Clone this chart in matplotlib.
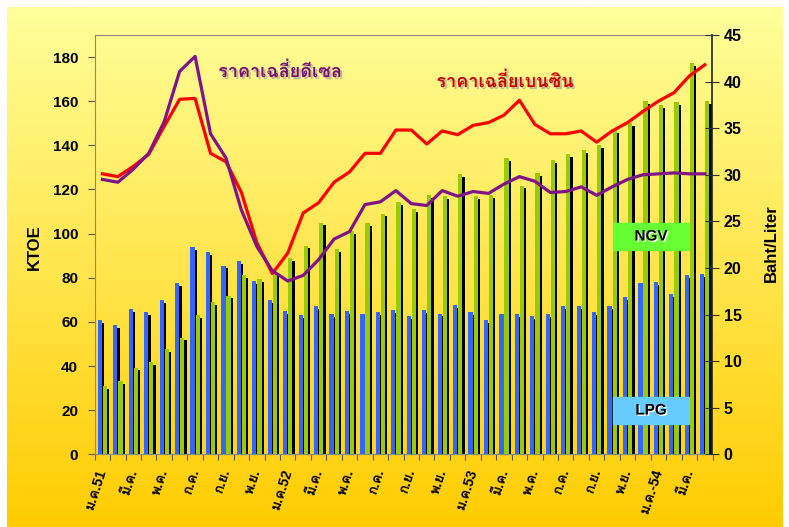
import matplotlib
matplotlib.use('Agg')
import matplotlib.pyplot as plt
import matplotlib.patheffects as pe
from matplotlib import font_manager
from matplotlib.ft2font import FT2Font
from matplotlib.patches import Rectangle
import numpy as np

# monthly data, ม.ค.51 .. เม.ย.54
lpg = [60.8, 58.7, 66.0, 64.4, 69.9, 77.5, 94.1, 91.7, 85.5, 87.4,
       78.4, 69.9, 65.1, 63.0, 67.3, 63.5, 65.1, 63.8, 64.3, 65.4,
       62.8, 65.4, 63.8, 67.6, 64.3, 61.0, 63.8, 63.5, 62.8, 63.4,
       67.2, 67.2, 64.6, 67.2, 71.1, 77.5, 77.9, 72.5, 81.1, 81.7]
ngv = [31.0, 33.3, 39.3, 41.9, 47.8, 52.9, 63.1, 69.1, 71.9, 81.4,
       79.4, 82.0, 89.1, 94.6, 105.0, 93.0, 101.2, 104.7, 109.1, 114.2,
       111.0, 117.4, 117.2, 127.1, 117.2, 117.5, 134.2, 121.8, 127.4, 133.4,
       136.2, 138.0, 140.2, 147.0, 150.1, 160.2, 158.4, 159.5, 177.3, 159.9]
benzine = [30.1, 29.8, 30.9, 32.2, 35.2, 38.1, 38.2, 32.3, 31.4, 28.1,
           22.7, 19.4, 21.6, 25.9, 27.0, 29.2, 30.3, 32.3, 32.3, 34.8,
           34.8, 33.3, 34.7, 34.3, 35.3, 35.6, 36.4, 38.0, 35.4, 34.4,
           34.4, 34.7, 33.5, 34.7, 35.6, 36.8, 37.9, 38.8, 40.6, 41.8]
diesel = [29.5, 29.2, 30.6, 32.3, 35.7, 41.1, 42.7, 34.4, 31.8, 26.2,
          22.3, 19.7, 18.6, 19.2, 20.9, 23.1, 23.9, 26.8, 27.1, 28.3,
          26.9, 26.7, 28.3, 27.7, 28.2, 28.0, 29.0, 29.8, 29.3, 28.1,
          28.2, 28.7, 27.8, 28.7, 29.5, 30.0, 30.1, 30.2, 30.1, 30.1]
month_labels = ['ม.ค.51', 'มี.ค.', 'พ.ค.', 'ก.ค.', 'ก.ย.', 'พ.ย.',
                'ม.ค.52', 'มี.ค.', 'พ.ค.', 'ก.ค.', 'ก.ย.', 'พ.ย.',
                'ม.ค.53', 'มี.ค.', 'พ.ค.', 'ก.ค.', 'ก.ย.', 'พ.ย.',
                'ม.ค.-54', 'มี.ค.']


def thai_family():
    # find some installed font that has Thai glyphs
    for f in font_manager.fontManager.ttflist:
        try:
            if 0x0E04 in FT2Font(f.fname).get_charmap():
                return f.name
        except Exception:
            pass
    return 'DejaVu Sans'


thai = thai_family()
plt.rcParams['font.family'] = ['Liberation Sans', thai, 'DejaVu Sans']

W, H = 789, 527
fig = plt.figure(figsize=(W / 100, H / 100), dpi=100)

# yellow gradient background
bg = fig.add_axes([7 / W, 0, 776 / W, 520 / H])
t = np.linspace(0, 1, 256)[:, None, None]
top = np.array([255, 255, 155]) / 255
bot = np.array([255, 204, 0]) / 255
bg.imshow(top + (bot - top) * t, aspect='auto', extent=[0, 1, 0, 1])
bg.axis('off')

ax = fig.add_axes([94.7 / W, 1 - 454.3 / H, (712.5 - 94.7) / W, (454.3 - 35) / H])
ax.set_facecolor('none')

x = np.arange(len(lpg))
bw = 0.27
sh = 0.15
ax.bar(x - 0.3 + sh, np.array(lpg) - 1.3, bw, align='edge', color='black', zorder=2)
ax.bar(x - 0.3, lpg, bw, align='edge', color='#3366FF', zorder=3)
ax.bar(x + 0.03 + sh, np.array(ngv) - 1.3, bw, align='edge', color='black', zorder=4)
ax.bar(x + 0.03, ngv, bw, align='edge', color='#99CC00', zorder=5)

ax.set_xlim(-0.5, len(lpg) - 0.5)
ax.set_ylim(0, 190)
ax.set_yticks(range(0, 181, 20))
ax.set_xticks(np.arange(-0.5, len(lpg), 1))
ax.set_xticklabels([])
ax.set_xticks(x[::2], minor=True)
ax.set_xticklabels(month_labels, minor=True, rotation=72, rotation_mode='anchor',
                   ha='right', va='center', fontsize=10, fontweight='bold')
ax.tick_params(axis='x', which='minor', length=0, pad=11)
ax.tick_params(axis='x', which='major', length=4, color='#555555')
ax.tick_params(axis='y', length=5, pad=7, labelsize=11, color='#555555')
for lbl in ax.get_yticklabels():
    lbl.set_fontweight('bold')
for s in ['left', 'top', 'bottom']:
    ax.spines[s].set_color('#888888')
ax.spines['right'].set_visible(False)

ax2 = ax.twinx()
ax2.set_ylim(0, 45)
ax2.set_yticks(range(0, 46, 5))
ax2.plot(x, benzine, color='#FF0000', lw=2.3, zorder=3)
ax2.plot(x, diesel, color='#80138A', lw=2.3, zorder=3)
ax2.tick_params(axis='y', direction='inout', length=10, pad=3, labelsize=11.5,
                color='#333333')
for lbl in ax2.get_yticklabels():
    lbl.set_fontweight('bold')
ax2.spines['right'].set_color('#222222')
ax2.spines['right'].set_linewidth(1.2)
for s in ['left', 'top', 'bottom']:
    ax2.spines[s].set_visible(False)

fig.text(34 / W, 1 - 247 / H, 'KTOE', rotation=90, ha='center', va='center',
         fontsize=12, fontweight='bold')
fig.text(771 / W, 1 - 243 / H, 'Baht/Liter', rotation=90, ha='center', va='center',
         fontsize=12, fontweight='bold')

shadow = [pe.withSimplePatchShadow(offset=(1.5, -1.5), shadow_rgbFace='#999999', alpha=0.6)]
fig.text(280 / W, 1 - 72 / H, 'ราคาเฉลี่ยดีเซล', ha='center', va='center',
         fontsize=13, fontweight='bold', color='#7A0F7A', path_effects=shadow)
fig.text(505 / W, 1 - 82 / H, 'ราคาเฉลี่ยเบนซิน', ha='center', va='center',
         fontsize=13, fontweight='bold', color='#CC0000', path_effects=shadow)

# NGV / LPG tags
white_sh = [pe.withSimplePatchShadow(offset=(1, -1), shadow_rgbFace='white', alpha=1)]
for name, col, ytop in [('NGV', '#66FF33', 223), ('LPG', '#66CCFF', 397)]:
    fig.patches.append(Rectangle((613 / W, 1 - (ytop + 27) / H), 76 / W, 27 / H,
                                 transform=fig.transFigure, color=col, zorder=10))
    fig.text(651 / W, 1 - (ytop + 13.5) / H, name, ha='center', va='center',
             fontsize=11, fontweight='bold', color='black', zorder=11,
             path_effects=white_sh)

fig.savefig('out.png', dpi=100)
